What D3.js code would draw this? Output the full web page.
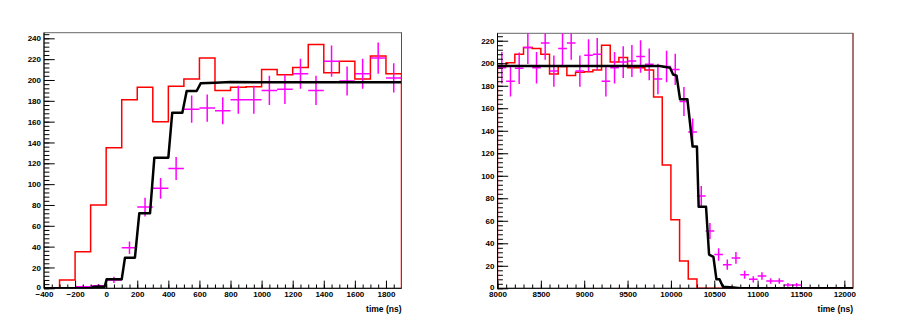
<!DOCTYPE html>
<html>
<head>
<meta charset="utf-8">
<script src="https://cdn.jsdelivr.net/npm/d3@7"></script>
<style>
  body { margin: 0; background: #fff; }
  svg { display: block; }
  .tick text { font-family: "Liberation Sans", Arial, sans-serif; font-weight: bold; font-size: 8px; fill: #000; }
  .title { font-family: "Liberation Sans", Arial, sans-serif; font-weight: bold; font-size: 8.5px; fill: #000; }
</style>
</head>
<body>
<svg id="chart" width="900" height="321"></svg>
<script>
// ---- left panel data ----
// red histogram, lower bin edges (ns) and contents
var leftRedX = [-400, -300, -200, -100, 0, 100, 200, 300, 400, 500, 600, 700, 800, 900,
                1000, 1100, 1200, 1300, 1400, 1500, 1600, 1700, 1800];
var leftRedY = [0, 8, 35, 80, 135, 181, 193, 160, 194, 201, 221, 190, 193, 193.5,
                210, 205, 212, 234, 207, 218, 201, 223, 206];
var leftRedEnd = 1900;

// black curve vertices
var leftBlackX = [-400, -95, -80, -10, 3, 100, 121, 185, 213, 282, 310, 400, 425, 490, 518, 582, 608, 700, 800, 1000, 1900];
var leftBlackY = [0, 0, 1.5, 1.5, 8.6, 8.6, 29.4, 29.4, 72, 72, 125.4, 125.4, 168.6, 168.6, 189.4, 189.4, 196.8, 197.4, 198, 197.8, 197.8];

// magenta points: bin centres, contents, errors
var leftPtsX = [-150, -50, 50, 150, 250, 350, 450, 550, 650, 750, 850, 950, 1050, 1150,
                1250, 1350, 1450, 1550, 1650, 1750, 1850];
var leftPtsY = [1.5, 2.5, 8, 39, 78, 96, 115, 172, 173, 170.5, 181, 181, 190, 191,
                206, 190, 218, 199, 206, 221, 202];
var leftPtsErr = [1.2, 1.6, 3, 6, 9, 10, 11, 13, 13, 13, 13.5, 13.5, 14, 14,
                  14.5, 14, 15, 14, 14.5, 15, 14];

var leftXTicks = [-400, -200, 0, 200, 400, 600, 800, 1000, 1200, 1400, 1600, 1800];
var leftYTicks = [0, 20, 40, 60, 80, 100, 120, 140, 160, 180, 200, 220, 240];

// ---- right panel data ----
var rightRedX = [8000, 8100, 8200, 8300, 8400, 8500, 8600, 8700, 8800, 8900, 9000, 9100,
                 9200, 9300, 9400, 9500, 9600, 9700, 9800, 9900, 10000, 10100, 10200, 10300];
var rightRedY = [197, 200.5, 208, 214, 213, 208, 190.4, 197, 189, 192, 192.5, 194,
                 216, 201, 205, 196, 196, 194, 170, 109.5, 61, 24.3, 8.3, 0];
var rightRedEnd = 12100;

var rightBlackX = [8000, 9870, 9990, 10025, 10065, 10105, 10190, 10250, 10300, 10320, 10405,
                   10440, 10490, 10525, 10560, 10600, 10720, 10800, 12100];
var rightBlackY = [197.5, 197.5, 196, 190, 189, 168, 168, 126, 126, 72.5, 72.5,
                   30, 28, 8, 8, 1.4, 0.7, 0, 0];

var rightPtsX = [8050, 8150, 8250, 8350, 8450, 8550, 8650, 8750, 8850, 8950, 9050, 9150,
                 9250, 9350, 9450, 9550, 9650, 9750, 9850, 9950, 10050, 10150, 10250,
                 10350, 10450, 10550, 10650, 10750, 10850, 10950, 11050, 11150, 11250, 11350, 11450];
var rightPtsY = [196, 184, 195.5, 214, 196, 218, 193, 213, 218, 193, 207, 208,
                 184, 196, 201, 202, 206, 199, 186, 197, 194.5, 166, 139,
                 82, 51, 30, 21, 27, 12, 8, 11, 6.5, 6.5, 3, 3];
var rightPtsErr = [14, 13.5, 14, 14.6, 14, 14.8, 13.9, 14.6, 14.8, 13.9, 14.4, 14.4,
                   13.6, 14, 14.2, 14.2, 14.4, 14.1, 13.6, 14, 13.9, 12.9, 11.8,
                   9, 7.1, 5.5, 4.6, 5.2, 3.5, 2.8, 3.3, 2.5, 2.5, 1.7, 1.7];

var rightXTicks = [8000, 8500, 9000, 9500, 10000, 10500, 11000, 11500, 12000];
var rightYTicks = [0, 20, 40, 60, 80, 100, 120, 140, 160, 180, 200, 220];

var svg = d3.select("#chart");
var fmt = d3.format("d");

function drawPanel(p) {
  var x = d3.scaleLinear().domain(p.xDomain).range([p.left, p.right]);
  var y = d3.scaleLinear().domain(p.yDomain).range([p.bottom, p.top]);
  var g = svg.append("g");

  var clipId = "clip" + p.id;
  g.append("clipPath").attr("id", clipId)
    .append("rect")
    .attr("x", p.left).attr("y", p.top)
    .attr("width", p.right - p.left).attr("height", p.bottom - p.top);

  // frame
  g.append("rect")
    .attr("x", p.left).attr("y", p.top)
    .attr("width", p.right - p.left).attr("height", p.bottom - p.top)
    .attr("fill", "none").attr("stroke", "#666").attr("stroke-width", 1);
  g.append("line")
    .attr("x1", p.right).attr("x2", p.right).attr("y1", p.top).attr("y2", p.bottom)
    .attr("stroke", "#a03030").attr("stroke-width", 1);

  var plot = g.append("g").attr("clip-path", "url(#" + clipId + ")");

  // red histogram
  var redPts = [[p.redX[0], 0]];
  p.redX.forEach(function(v, i) { redPts.push([v, p.redY[i]]); });
  redPts.push([p.redEnd, p.redY[p.redY.length - 1]]);
  redPts.push([p.redEnd, 0]);
  var step = d3.line().curve(d3.curveStepAfter)
    .x(function(d) { return x(d[0]); })
    .y(function(d) { return y(d[1]); });
  plot.append("path").datum(redPts)
    .attr("d", step)
    .attr("fill", "none").attr("stroke", "#ff0000").attr("stroke-width", 1.5);

  // magenta points with errors
  var pts = p.ptsX.map(function(v, i) { return {x: v, y: p.ptsY[i], e: p.ptsErr[i]}; });
  var mg = plot.append("g").attr("stroke", "#ff00ff").attr("stroke-width", 1.5);
  mg.selectAll("line.h").data(pts).enter().append("line")
    .attr("class", "h")
    .attr("x1", function(d) { return x(d.x - 50); })
    .attr("x2", function(d) { return x(d.x + 50); })
    .attr("y1", function(d) { return y(d.y); })
    .attr("y2", function(d) { return y(d.y); });
  mg.selectAll("line.v").data(pts).enter().append("line")
    .attr("class", "v")
    .attr("x1", function(d) { return x(d.x); })
    .attr("x2", function(d) { return x(d.x); })
    .attr("y1", function(d) { return y(d.y - d.e); })
    .attr("y2", function(d) { return y(d.y + d.e); });

  // black curve
  var curve = p.blackX.map(function(v, i) { return [v, p.blackY[i]]; });
  plot.append("path").datum(curve)
    .attr("d", d3.line()
      .x(function(d) { return x(d[0]); })
      .y(function(d) { return y(d[1]); }))
    .attr("fill", "none").attr("stroke", "#000").attr("stroke-width", 2.5)
    .attr("stroke-linejoin", "round");

  // y axis: minor then major ticks, pointing into the frame
  var ytop = p.yDomain[1];
  g.append("g").attr("transform", "translate(" + p.left + ",0)")
    .call(d3.axisLeft(y).tickValues(d3.range(0, ytop, 4)).tickSize(-5.4).tickSizeOuter(0).tickFormat(""))
    .call(function(a) { a.select(".domain").remove(); });
  g.append("g").attr("transform", "translate(" + p.left + ",0)")
    .call(d3.axisLeft(y).tickValues(p.yTicks).tickSize(-10.7).tickSizeOuter(0).tickPadding(3).tickFormat(fmt))
    .call(function(a) {
      a.select(".domain").attr("d", "M0," + p.bottom + "V" + p.top);
      // the zero label sits a little high, as in the original
      a.selectAll(".tick text").filter(function(d) { return d === 0; }).attr("dy", "0.1em");
    });

  // x axis
  var xmin = p.xDomain[0], xmax = p.xDomain[1];
  g.append("g").attr("transform", "translate(0," + p.bottom + ")")
    .call(d3.axisBottom(x).tickValues(d3.range(xmin, xmax, p.xMinor)).tickSize(-3.8).tickSizeOuter(0).tickFormat(""))
    .call(function(a) { a.select(".domain").remove(); });
  g.append("g").attr("transform", "translate(0," + p.bottom + ")")
    .call(d3.axisBottom(x).tickValues(p.xTicks).tickSize(-7.7).tickSizeOuter(0).tickPadding(3).tickFormat(fmt))
    .call(function(a) { a.select(".domain").attr("d", "M" + p.left + ",0H" + p.right).attr("stroke", "#000"); });

  svg.selectAll(".tick text").attr("font-family", null).attr("font-size", null);

  g.append("text").attr("class", "title")
    .attr("x", p.right).attr("y", 312)
    .attr("text-anchor", "end")
    .text("time (ns)");
}

drawPanel({
  id: "L", left: 44, right: 401.5, top: 32.7, bottom: 288.3,
  xDomain: [-400, 1900], yDomain: [0, 245.4],
  xTicks: leftXTicks, yTicks: leftYTicks, xMinor: 50,
  redX: leftRedX, redY: leftRedY, redEnd: leftRedEnd,
  blackX: leftBlackX, blackY: leftBlackY,
  ptsX: leftPtsX, ptsY: leftPtsY, ptsErr: leftPtsErr
});

drawPanel({
  id: "R", left: 497.5, right: 853, top: 33.3, bottom: 288.3,
  xDomain: [8000, 12100], yDomain: [0, 226.6],
  xTicks: rightXTicks, yTicks: rightYTicks, xMinor: 100,
  redX: rightRedX, redY: rightRedY, redEnd: rightRedEnd,
  blackX: rightBlackX, blackY: rightBlackY,
  ptsX: rightPtsX, ptsY: rightPtsY, ptsErr: rightPtsErr
});
</script>
</body>
</html>
